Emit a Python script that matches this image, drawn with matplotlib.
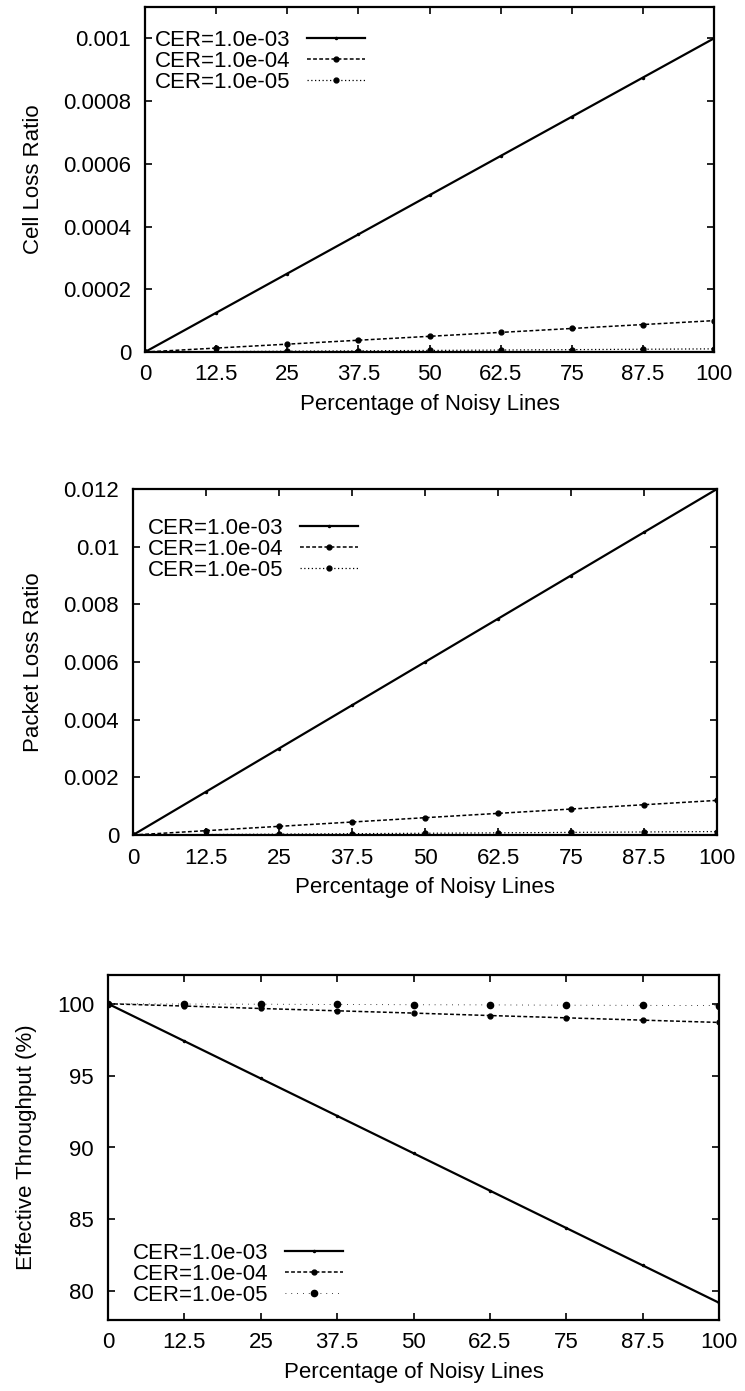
import matplotlib.pyplot as plt

plt.rcParams['font.family'] = ['Liberation Sans', 'DejaVu Sans']

noisy = [0, 12.5, 25, 37.5, 50, 62.5, 75, 87.5, 100]
xticks = [0, 12.5, 25, 37.5, 50, 62.5, 75, 87.5, 100]
xtick_labels = ['0', '12.5', '25', '37.5', '50', '62.5', '75', '87.5', '100']
cer_labels = ['CER=1.0e-03', 'CER=1.0e-04', 'CER=1.0e-05']

# cell loss ratio
clr_3 = [0, 0.000125, 0.00025, 0.000375, 0.0005, 0.000625, 0.00075, 0.000875, 0.001]
clr_4 = [0, 1.25e-5, 2.5e-5, 3.75e-5, 5.0e-5, 6.25e-5, 7.5e-5, 8.75e-5, 1.0e-4]
clr_5 = [0, 1.25e-6, 2.5e-6, 3.75e-6, 5.0e-6, 6.25e-6, 7.5e-6, 8.75e-6, 1.0e-5]

# packet loss ratio
plr_3 = [0, 0.0015, 0.003, 0.0045, 0.006, 0.0075, 0.009, 0.0105, 0.012]
plr_4 = [0, 0.00015, 0.0003, 0.00045, 0.0006, 0.00075, 0.0009, 0.00105, 0.0012]
plr_5 = [0, 1.5e-5, 3.0e-5, 4.5e-5, 6.0e-5, 7.5e-5, 9.0e-5, 1.05e-4, 1.2e-4]

# effective throughput (%)
thr_3 = [100, 97.4, 94.8, 92.2, 89.6, 87.0, 84.4, 81.8, 79.2]
thr_4 = [100, 99.84, 99.67, 99.51, 99.35, 99.18, 99.02, 98.86, 98.7]
thr_5 = [100, 99.98, 99.97, 99.95, 99.93, 99.92, 99.90, 99.89, 99.87]

FS = 16
fig = plt.figure(figsize=(7.45, 13.91), dpi=100)
W, H = 745.0, 1391.0


def make_axes(left, top, right, bottom):
    return fig.add_axes([left / W, 1 - bottom / H, (right - left) / W, (bottom - top) / H])


def style(ax, ylabel, yticks, ytick_labels, ylim):
    ax.set_xlim(0, 100)
    ax.set_ylim(*ylim)
    ax.set_xticks(xticks)
    ax.set_xticklabels(xtick_labels)
    ax.set_yticks(yticks)
    ax.set_yticklabels(ytick_labels)
    ax.tick_params(direction='in', top=True, right=True, length=5, width=1.2,
                   labelsize=FS, colors='black')
    ax.tick_params(axis='y', pad=10)
    ax.tick_params(axis='x', pad=9)
    for s in ax.spines.values():
        s.set_linewidth(1.6)
    ax.set_xlabel('Percentage of Noisy Lines', fontsize=FS, labelpad=6)
    ax.set_ylabel(ylabel, fontsize=FS, labelpad=14)


def draw(ax, s3, s4, s5, legend_xy, sparse5=False):
    ax.plot(noisy, s3, color='black', lw=1.6, marker='.', ms=3, label=cer_labels[0])
    ax.plot(noisy, s4, color='black', lw=1.1, ls=(0, (2.5, 1.5)), marker='o', ms=3.5,
            label=cer_labels[1])
    if sparse5:
        ax.plot(noisy, s5, color='black', lw=0.6, ls=(0, (1, 6)), marker='o', ms=4.5,
                label=cer_labels[2])
    else:
        ax.plot(noisy, s5, color='black', lw=0.9, ls=(0, (1, 2)), marker='o', ms=3.5,
                label=cer_labels[2])
    x, y = legend_xy
    ax.legend(loc='upper left', bbox_to_anchor=(x / W, 1 - y / H),
              bbox_transform=fig.transFigure, frameon=False, markerfirst=False,
              fontsize=FS, handlelength=2.6, handletextpad=0.75, labelspacing=0.0,
              borderpad=0, borderaxespad=0)


ax1 = make_axes(145, 7, 714, 352)
draw(ax1, clr_3, clr_4, clr_5, (155, 30))
style(ax1, 'Cell Loss Ratio', [0, 0.0002, 0.0004, 0.0006, 0.0008, 0.001],
      ['0', '0.0002', '0.0004', '0.0006', '0.0008', '0.001'], (0, 0.0011))

ax2 = make_axes(133, 489, 717, 835)
draw(ax2, plr_3, plr_4, plr_5, (148, 518))
style(ax2, 'Packet Loss Ratio', [0, 0.002, 0.004, 0.006, 0.008, 0.01, 0.012],
      ['0', '0.002', '0.004', '0.006', '0.008', '0.01', '0.012'], (0, 0.012))

ax3 = make_axes(108, 975, 719, 1320)
draw(ax3, thr_3, thr_4, thr_5, (133, 1243), sparse5=True)
style(ax3, 'Effective Throughput (%)', [80, 85, 90, 95, 100],
      ['80', '85', '90', '95', '100'], (78.0, 102.0))

fig.savefig('out.png', dpi=100)
